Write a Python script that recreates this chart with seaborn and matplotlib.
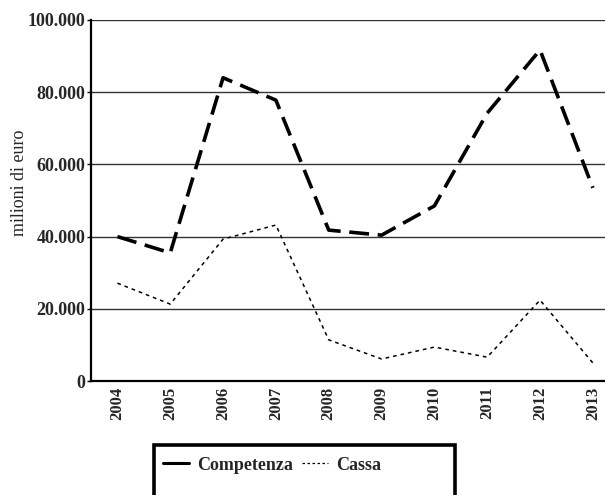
import matplotlib
matplotlib.use("Agg")
import matplotlib.pyplot as plt
import seaborn as sns
import pandas as pd
from matplotlib.patches import Rectangle
from matplotlib.lines import Line2D
from matplotlib.ticker import FuncFormatter

years = [2004, 2005, 2006, 2007, 2008, 2009, 2010, 2011, 2012, 2013]
competenza = [40000, 35500, 84000, 77800, 41800, 40400, 48500, 74200, 91700, 53500]
cassa = [27100, 21300, 39300, 43200, 11400, 6100, 9400, 6600, 22400, 5000]
y_ticks = [0, 20000, 40000, 60000, 80000, 100000]

sns.set_theme(style="white")
plt.rcParams['font.family'] = ['Liberation Serif', 'DejaVu Serif']

df = pd.DataFrame({"anno": years, "Competenza": competenza, "Cassa": cassa})

fig = plt.figure(figsize=(6.05, 4.95), dpi=100)
ax = fig.add_axes([91/605, 1-381/495, 1-91/605, (381-20)/495])

sns.lineplot(data=df, x="anno", y="Competenza", ax=ax, color="black",
             linewidth=2.6)
ax.lines[-1].set_dashes([5.5, 2.4])
sns.lineplot(data=df, x="anno", y="Cassa", ax=ax, color="black",
             linewidth=1.1)
ax.lines[-1].set_dashes([2.4, 2.6])

ax.set_ylim(0, 100000)
ax.set_xlim(years[0] - 0.5, years[-1] + 0.23)
ax.set_yticks(y_ticks)
ax.yaxis.set_major_formatter(FuncFormatter(lambda v, p: "0" if v == 0 else f"{int(v):,}".replace(",", ".")))
ax.set_xticks(years)
ax.set_xticklabels([str(y) for y in years], rotation=90, fontweight="bold", fontsize=12)
for lab in ax.get_yticklabels():
    lab.set_fontweight("bold")
    lab.set_fontsize(13)
ax.tick_params(axis="y", length=3, width=1, color="black", pad=1, left=True)
ax.tick_params(axis="x", length=0, pad=4)
ax.grid(axis="y", color="#333333", linewidth=1)
ax.set_axisbelow(True)
for s in ["top", "right"]:
    ax.spines[s].set_visible(False)
for s in ["left", "bottom"]:
    ax.spines[s].set_color("black")
    ax.spines[s].set_linewidth(1.6)
ax.set_xlabel("")
ax.set_ylabel("")
fig.text(20/605, 1-183/495, "milioni di euro", rotation=90, ha="center", va="center", fontsize=13)

# legend box
fig.patches.append(Rectangle((154/605, -0.05), (455-154)/605, 0.05 + 1-445/495,
                             transform=fig.transFigure, fill=False, edgecolor="black",
                             linewidth=2.6))
handles = [Line2D([], [], color="black", linewidth=2.2),
           Line2D([], [], color="black", linewidth=0.9, dashes=[2, 2])]
fig.legend(handles, ["Competenza", "Cassa"], loc="center left",
           bbox_to_anchor=(147/605, 1-465/495), ncol=2, frameon=False,
           prop={"weight": "bold", "size": 13}, handlelength=1.4,
           handletextpad=0.45, columnspacing=0.55)

fig.savefig("out.png", dpi=100)
